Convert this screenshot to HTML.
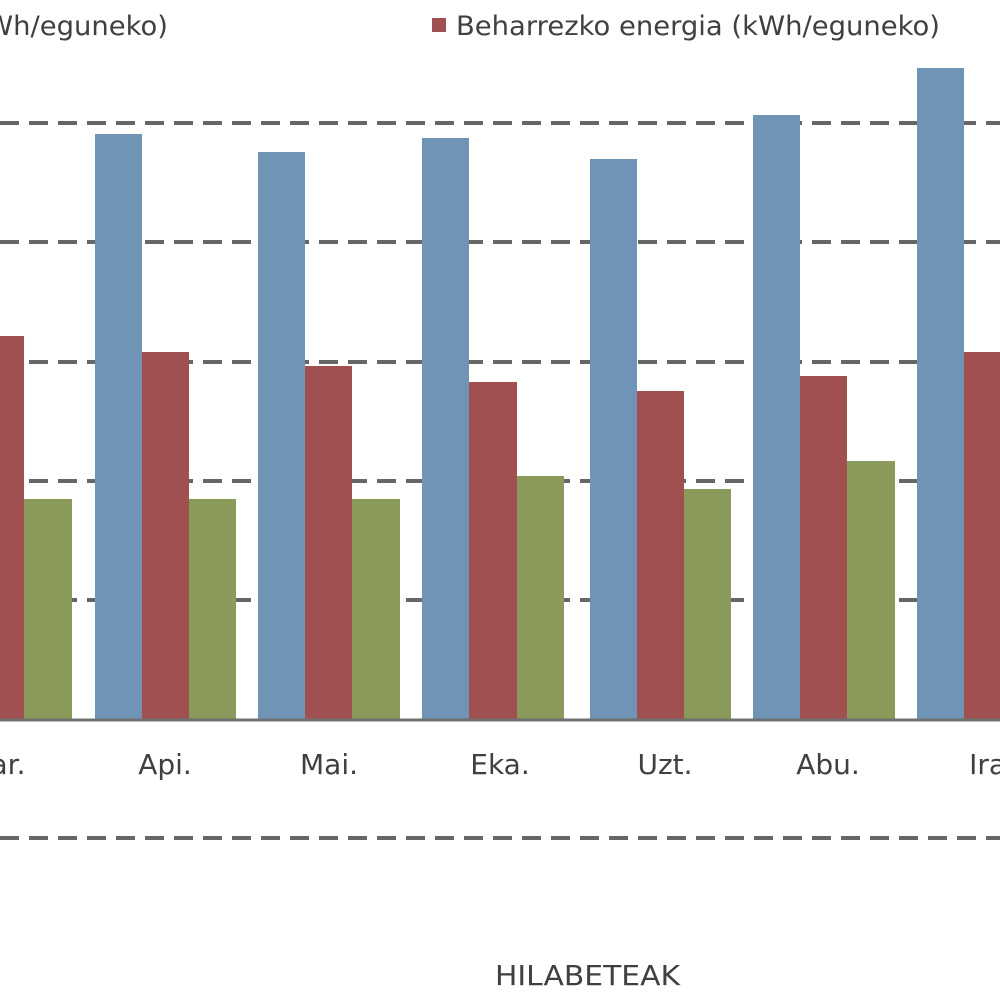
<!DOCTYPE html>
<html><head><meta charset="utf-8"><style>
html,body{margin:0;padding:0;background:#fff;}
svg{display:block}
text{font-family:"DejaVu Sans","Liberation Sans",sans-serif;fill:#404040;}
</style></head><body>
<svg width="1000" height="1000" viewBox="0 0 1000 1000">
<rect width="1000" height="1000" fill="#fff"/>
<g stroke="#666" stroke-width="4" stroke-dasharray="19,10">
<line x1="0" y1="123" x2="1000" y2="123"/>
<line x1="0" y1="242" x2="1000" y2="242"/>
<line x1="0" y1="362" x2="1000" y2="362"/>
<line x1="0" y1="481" x2="1000" y2="481"/>
<line x1="0" y1="600" x2="1000" y2="600"/>
<line x1="0" y1="838" x2="1000" y2="838"/>
</g>
<g>
<rect x="-23" y="336" width="47" height="384" fill="#a05050"/>
<rect x="24" y="499" width="48" height="221" fill="#8a9a5a"/>
<rect x="95" y="134" width="47" height="586" fill="#6f94b5"/>
<rect x="142" y="352" width="47" height="368" fill="#a05050"/>
<rect x="189" y="499" width="47" height="221" fill="#8a9a5a"/>
<rect x="258" y="152" width="47" height="568" fill="#6f94b5"/>
<rect x="305" y="366" width="47" height="354" fill="#a05050"/>
<rect x="352" y="499" width="48" height="221" fill="#8a9a5a"/>
<rect x="422" y="138" width="47" height="582" fill="#6f94b5"/>
<rect x="469" y="382" width="48" height="338" fill="#a05050"/>
<rect x="517" y="476" width="47" height="244" fill="#8a9a5a"/>
<rect x="590" y="159" width="47" height="561" fill="#6f94b5"/>
<rect x="637" y="391" width="47" height="329" fill="#a05050"/>
<rect x="684" y="489" width="47" height="231" fill="#8a9a5a"/>
<rect x="753" y="115" width="47" height="605" fill="#6f94b5"/>
<rect x="800" y="376" width="47" height="344" fill="#a05050"/>
<rect x="847" y="461" width="48" height="259" fill="#8a9a5a"/>
<rect x="917" y="68" width="47" height="652" fill="#6f94b5"/>
<rect x="964" y="352" width="47" height="368" fill="#a05050"/>
</g>
<line x1="0" y1="720" x2="1000" y2="720" stroke="#707070" stroke-width="3"/>
<g font-size="28" text-anchor="middle">
<text x="8" y="774">ar.</text>
<text x="165" y="774">Api.</text>
<text x="329" y="774">Mai.</text>
<text x="500" y="774">Eka.</text>
<text x="665" y="774">Uzt.</text>
<text x="828" y="774">Abu.</text>
<text x="992" y="774">Ira.</text>
</g>
<text x="495" y="985" font-size="28" textLength="185" lengthAdjust="spacingAndGlyphs">HILABETEAK</text>
<text x="-14" y="35" font-size="27" textLength="182" lengthAdjust="spacingAndGlyphs">Wh/eguneko)</text>
<rect x="432" y="18" width="14" height="14" fill="#a05050"/>
<text x="456" y="35" font-size="27" textLength="484" lengthAdjust="spacingAndGlyphs">Beharrezko energia (kWh/eguneko)</text>
</svg>
</body></html>
